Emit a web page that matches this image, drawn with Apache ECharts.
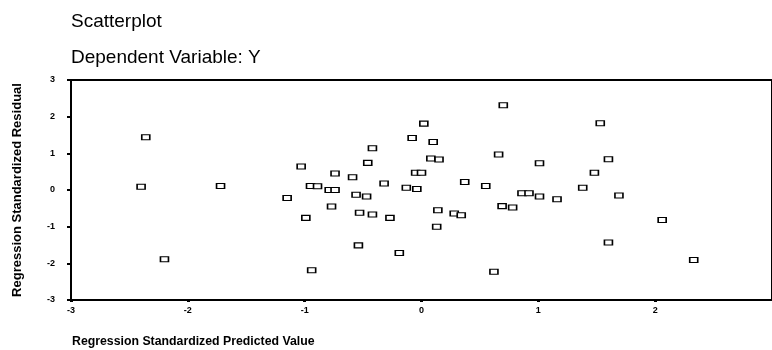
<!DOCTYPE html>
<html>
<head>
<meta charset="utf-8">
<script src="https://cdn.jsdelivr.net/npm/echarts@6/dist/echarts.min.js"></script>
<style>html,body{margin:0;padding:0;background:#fff}#c{width:772px;height:350px}</style>
</head>
<body>
<div id="c"></div>
<script>
var titleText = 'Scatterplot';
var subtitleText = 'Dependent Variable: Y';
var xAxisName = 'Regression Standardized Predicted Value';
var yAxisName = 'Regression Standardized Residual';

var predicted = [
 -2.36, -2.40, -1.72, -2.20, -1.03, -1.15, -0.95, -0.89, -0.99, -0.94,
 -0.74, -0.79, -0.74, -0.77, -0.59, -0.56, -0.47, -0.53, -0.42, -0.42,
 -0.46, -0.54, -0.32, -0.27, -0.19, -0.13, -0.04, -0.08, -0.05, 0.00,
 0.02, 0.10, 0.08, 0.15, 0.14, 0.13, 0.28, 0.34, 0.37, 0.55,
 0.62, 0.70, 0.66, 0.69, 0.78, 1.01, 0.86, 0.92, 1.01, 1.16,
 1.38, 1.48, 1.53, 1.60, 1.69, 1.60, 2.06, 2.33
];
var residual = [
 1.44, 0.09, 0.11, -1.89, 0.64, -0.22, 0.11, 0.10, -0.76, -2.19,
 0.45, 0.00, 0.00, -0.45, 0.35, -0.13, -0.18, -0.62, -0.67, 1.14,
 0.74, -1.51, 0.18, -0.76, -1.72, 0.06, 0.03, 1.42, 0.47, 0.47,
 1.81, 1.31, 0.86, 0.83, -0.55, -1.00, -0.64, -0.69, 0.22, 0.11,
 -2.23, 2.31, 0.97, -0.44, -0.48, 0.73, -0.09, -0.09, -0.18, -0.25,
 0.06, 0.47, 1.82, 0.84, -0.15, -1.43, -0.82, -1.91
];

var points = predicted.map(function (v, i) { return [v, residual[i]]; });

var chart = echarts.init(document.getElementById('c'), null, {renderer: 'canvas'});
var labelFont = {fontFamily: 'Liberation Sans, Arial, sans-serif', fontWeight: 'bold', fontSize: 9, color: '#000'};
var titleFont = {fontFamily: 'Liberation Sans, Arial, sans-serif', fontWeight: 'normal', fontSize: 19, color: '#000'};
chart.setOption({
  animation: false,
  backgroundColor: '#fff',
  title: [
    {text: titleText, left: 66, top: 7, textStyle: titleFont},
    {text: subtitleText, left: 66, top: 43, textStyle: titleFont}
  ],
  grid: {left: 71, right: -7, top: 80, bottom: 50, show: true, borderColor: '#000', borderWidth: 2, backgroundColor: 'transparent'},
  xAxis: {
    type: 'value', min: -3, max: 3, interval: 1,
    axisLine: {show: true, onZero: false, lineStyle: {color: '#000', width: 2}},
    axisTick: {show: true, length: 2, lineStyle: {color: '#000', width: 3}},
    axisLabel: Object.assign({margin: 6, showMaxLabel: false}, labelFont),
    splitLine: {show: false}
  },
  yAxis: {
    type: 'value', min: -3, max: 3, interval: 1,
    name: yAxisName, nameLocation: 'middle', nameGap: 47,
    nameTextStyle: {fontFamily: 'Liberation Sans, Arial, sans-serif', fontWeight: 'bold', fontSize: 13, color: '#000'},
    axisLine: {show: true, onZero: false, lineStyle: {color: '#000', width: 2}},
    axisTick: {show: true, length: 4, lineStyle: {color: '#000', width: 2}},
    axisLabel: Object.assign({margin: 16}, labelFont),
    splitLine: {show: false}
  },
  graphic: [
    {type: 'text', left: 72, top: 336, style: {text: xAxisName, font: 'bold 12.3px "Liberation Sans", Arial, sans-serif', fill: '#000'}}
  ],
  series: [{
    type: 'scatter',
    data: points,
    symbol: 'rect',
    symbolSize: [8, 5],
    itemStyle: {color: '#fff', borderColor: '#000', borderWidth: 1.3, opacity: 1}
  }]
});
</script>
</body>
</html>
